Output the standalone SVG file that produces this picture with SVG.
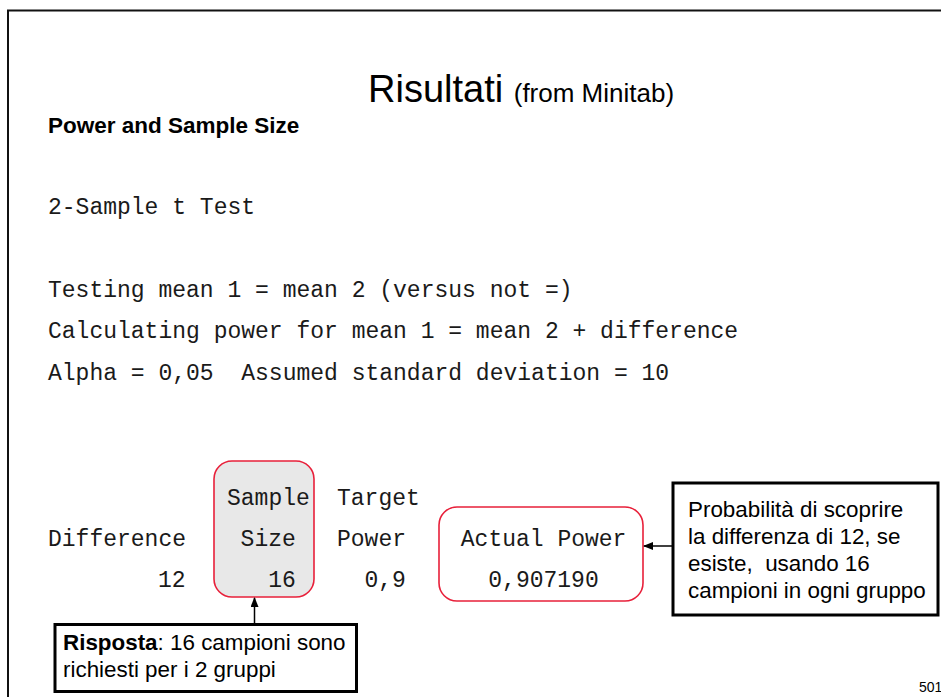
<svg xmlns="http://www.w3.org/2000/svg" width="941" height="697" viewBox="0 0 941 697">
<style>
.mono{font-family:"Liberation Mono","Courier New",monospace;font-size:23px;fill:#1a1a1a;white-space:pre}
.sans{font-family:"Liberation Sans",Arial,sans-serif;fill:#000;white-space:pre}
.rbox{stroke:#e8203a;stroke-width:1.6}
.cbox{fill:#fff;stroke:#000;stroke-width:3}
.conn{stroke:#000;stroke-width:1.5;fill:none}
</style>
<defs>
<marker id="ah" markerWidth="10" markerHeight="8" refX="9" refY="4" orient="auto" markerUnits="userSpaceOnUse">
<path d="M0,0 L10,4 L0,8 Z" fill="#000"/>
</marker>
</defs>
<rect width="941" height="697" fill="#fff"/>
<rect x="8" y="10.5" width="1000" height="1000" fill="none" stroke="#111" stroke-width="2"/>
<g id="title">
<text class="sans" x="368" y="102" font-size="38">Risultati <tspan font-size="26">(from Minitab)</tspan></text>
</g>
<g id="header">
<text class="sans" x="48" y="133" font-size="22.5" font-weight="bold">Power and Sample Size</text>
</g>
<g id="output-text">
<text class="mono" x="48" y="214" xml:space="preserve">2-Sample t Test</text>
<text class="mono" x="48" y="297" xml:space="preserve">Testing mean 1 = mean 2 (versus not =)</text>
<text class="mono" x="48" y="338" xml:space="preserve">Calculating power for mean 1 = mean 2 + difference</text>
<text class="mono" x="48" y="380" xml:space="preserve">Alpha = 0,05  Assumed standard deviation = 10</text>
</g>
<g id="sample-size">
<rect class="rbox" x="214" y="461" width="100" height="136" rx="18" fill="#e8e8e8"/>
<text class="mono" x="227" y="505">Sample</text>
<text class="mono" x="240.6" y="546">Size</text>
<text class="mono" x="268.2" y="587">16</text>
</g>
<g id="actual-power">
<rect class="rbox" x="439" y="507" width="204" height="94" rx="18" fill="#fff"/>
<text class="mono" x="460.8" y="546">Actual Power</text>
<text class="mono" x="488.3" y="587">0,907190</text>
</g>
<g id="table">
<text class="mono" x="337" y="505">Target</text>
<text class="mono" x="48" y="546">Difference</text>
<text class="mono" x="337" y="546">Power</text>
<text class="mono" x="158" y="587">12</text>
<text class="mono" x="364.5" y="587">0,9</text>
</g>
<g id="connectors">
<line class="conn" x1="673" y1="546" x2="644" y2="546" marker-end="url(#ah)"/>
<line class="conn" x1="254.5" y1="624" x2="254.5" y2="598" marker-end="url(#ah)"/>
</g>
<g id="callout-power">
<rect class="cbox" x="673" y="483" width="265" height="132"/>
<text class="sans" font-size="22.4" xml:space="preserve"><tspan x="688" y="517">Probabilità di scoprire</tspan><tspan x="688" y="544">la differenza di 12, se</tspan><tspan x="688" y="571">esiste,  usando 16</tspan><tspan x="688" y="598">campioni in ogni gruppo</tspan></text>
</g>
<g id="callout-answer">
<rect class="cbox" x="55" y="624.5" width="301.5" height="67"/>
<text class="sans" font-size="22.4" xml:space="preserve"><tspan x="63" y="650"><tspan font-weight="bold">Risposta</tspan>: 16 campioni sono</tspan><tspan x="63" y="677">richiesti per i 2 gruppi</tspan></text>
</g>
<g id="page-number">
<text class="sans" x="919" y="692" font-size="14">501</text>
</g>
</svg>
